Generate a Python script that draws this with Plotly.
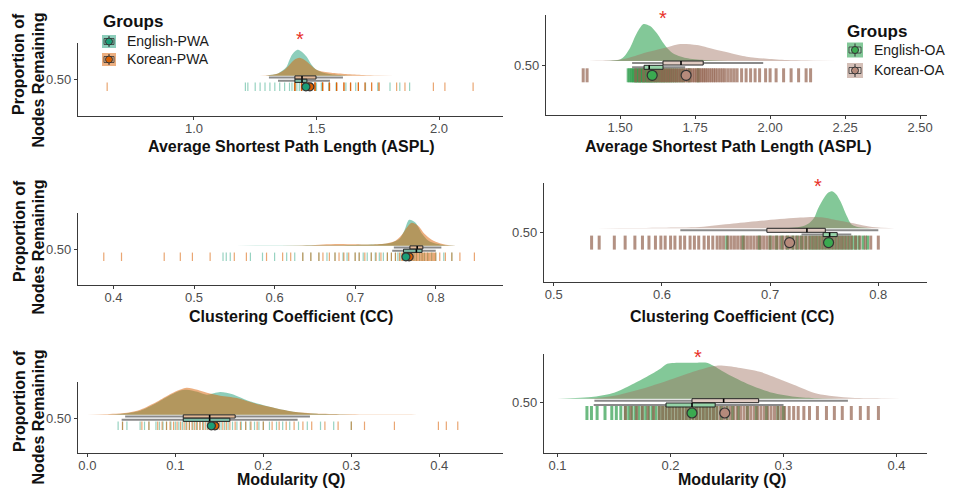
import plotly.graph_objects as go

W, H = 954, 498
OX, OY = 8, 8            # page body margin of the browser
FW, FH = W - 16, H - 16  # figure size that fits inside the window

# ====================== DATA ======================
# ---- Panel 1: ASPL, PWA groups ----
aspl_pwa_eng_dens_x = [1.25, 1.30, 1.34, 1.36, 1.378, 1.39, 1.40, 1.415, 1.425, 1.44, 1.46, 1.48, 1.50, 1.53, 1.56, 1.62, 1.70]
aspl_pwa_eng_dens = [0, 0.4, 2, 5, 9, 16, 21, 25, 26, 24, 19, 11, 6, 3, 1.5, 0.4, 0]
aspl_pwa_kor_dens_x = [1.25, 1.30, 1.34, 1.37, 1.39, 1.41, 1.43, 1.45, 1.475, 1.50, 1.53, 1.56, 1.62, 1.69, 1.75, 1.85]
aspl_pwa_kor_dens = [0, 0.5, 2, 6, 11, 16, 18, 16, 11, 6, 4, 3, 1.7, 0.7, 0.2, 0]
aspl_pwa_eng_box = [1.343, 1.412, 1.441, 1.461, 1.555]   # whisker lo, q1, median, q3, whisker hi
aspl_pwa_kor_box = [1.306, 1.412, 1.441, 1.498, 1.608]
aspl_pwa_eng_mean = 1.457
aspl_pwa_kor_mean = 1.473
aspl_pwa_eng_pts = [1.21, 1.22, 1.25, 1.27, 1.29, 1.31, 1.33, 1.35, 1.37, 1.39, 1.40, 1.41, 1.42, 1.43, 1.44,
                    1.45, 1.46, 1.47, 1.48, 1.50, 1.52, 1.55, 1.58, 1.62, 1.66, 1.70, 1.75, 1.80, 1.84, 1.88]
aspl_pwa_kor_vals = [0.646, 1.412, 1.439, 1.466, 1.494, 1.525, 1.553, 1.582, 1.612, 1.639, 1.671, 1.698, 1.725,
                     1.755, 1.827, 1.861, 1.977, 2.024, 2.139]
aspl_pwa_kor_counts = [1, 4, 5, 5, 5, 4, 4, 4, 3, 3, 3, 2, 2, 2, 1, 1, 1, 1, 1]
aspl_pwa_ticks = [1.0, 1.5, 2.0]
aspl_pwa_ticklabels = ["1.0", "1.5", "2.0"]

# ---- Panel 2: ASPL, OA groups ----
aspl_oa_eng_dens_x = [1.42, 1.47, 1.50, 1.515, 1.533, 1.556, 1.578, 1.60, 1.622, 1.644, 1.66, 1.68, 1.72, 1.78, 1.86]
aspl_oa_eng_dens = [0, 0.3, 1.5, 5, 13, 28, 37, 35, 28, 18, 12, 7, 3, 1, 0]
aspl_oa_kor_dens_x = [1.36, 1.42, 1.48, 1.52, 1.55, 1.58, 1.62, 1.66, 1.70, 1.756, 1.81, 1.867, 1.922, 1.99, 2.055, 2.12, 2.22]
aspl_oa_kor_dens = [0, 0.3, 0.8, 2.5, 5, 8, 11, 14, 17, 16, 12, 8, 4.3, 2.3, 1, 0.4, 0]
aspl_oa_eng_box = [1.54, 1.58, 1.597, 1.643, 1.717]
aspl_oa_kor_box = [1.54, 1.643, 1.703, 1.777, 1.977]
aspl_oa_eng_mean = 1.607
aspl_oa_kor_mean = 1.72
aspl_oa_eng_pts = [1.527, 1.532, 1.538, 1.542, 1.546, 1.55, 1.553, 1.556, 1.559, 1.562, 1.565, 1.568, 1.571, 1.574,
                   1.577, 1.58, 1.583, 1.586, 1.589, 1.592, 1.595, 1.598, 1.601, 1.604, 1.607, 1.61, 1.614, 1.618,
                   1.622, 1.626, 1.63, 1.635, 1.64, 1.645, 1.65, 1.656, 1.662, 1.668, 1.675, 1.682, 1.69, 1.70,
                   1.71, 1.73, 1.76]
aspl_oa_kor_pts = [1.377, 1.39, 1.552, 1.565, 1.578, 1.59, 1.60, 1.61, 1.618, 1.626, 1.634, 1.64, 1.646, 1.652,
                   1.658, 1.664, 1.67, 1.676, 1.682, 1.688, 1.694, 1.70, 1.706, 1.712, 1.718, 1.724, 1.73, 1.736,
                   1.742, 1.748, 1.754, 1.76, 1.766, 1.772, 1.778, 1.784, 1.79, 1.797, 1.804, 1.811, 1.818, 1.826,
                   1.834, 1.842, 1.85, 1.86, 1.87, 1.88, 1.89, 1.905, 1.92, 1.935, 1.95, 1.965, 1.985, 2.0, 2.02,
                   2.045, 2.07, 2.095, 2.12, 2.135]
aspl_oa_ticks = [1.5, 1.75, 2.0, 2.25, 2.5]
aspl_oa_ticklabels = ["1.50", "1.75", "2.00", "2.25", "2.50"]

# ---- Panel 3: CC, PWA groups ----
cc_pwa_eng_dens_x = [0.53, 0.58, 0.62, 0.66, 0.70, 0.73, 0.745, 0.755, 0.761, 0.767, 0.775, 0.783, 0.791, 0.801, 0.81, 0.825]
cc_pwa_eng_dens = [0, 0.3, 0.4, 0.6, 0.9, 1.5, 3, 7, 15, 26, 23, 12, 5, 2, 0.8, 0]
cc_pwa_kor_dens_x = [0.60, 0.64, 0.66, 0.68, 0.70, 0.72, 0.74, 0.75, 0.758, 0.764, 0.770, 0.778, 0.786, 0.795, 0.805, 0.815, 0.825]
cc_pwa_kor_dens = [0, 0.5, 1.3, 1.8, 1.5, 1.3, 2.5, 5, 11, 18, 23, 20, 12, 6, 2.5, 0.8, 0]
cc_pwa_eng_box = [0.746, 0.760, 0.776, 0.783, 0.800]
cc_pwa_kor_box = [0.748, 0.768, 0.777, 0.784, 0.807]
cc_pwa_eng_mean = 0.763
cc_pwa_kor_mean = 0.767
cc_pwa_eng_pts = [0.536, 0.54, 0.545, 0.57, 0.585, 0.60, 0.615, 0.625, 0.635, 0.645, 0.655, 0.665, 0.675, 0.685,
                  0.69, 0.70, 0.705, 0.71, 0.715, 0.72, 0.725, 0.73, 0.735, 0.74, 0.745, 0.75, 0.753, 0.756, 0.76,
                  0.763, 0.766, 0.77, 0.773, 0.776, 0.78, 0.783, 0.786, 0.79, 0.795, 0.80, 0.81, 0.82]
cc_pwa_kor_pts = [0.388, 0.41, 0.463, 0.483, 0.498, 0.52, 0.55, 0.565, 0.59, 0.61, 0.62, 0.635, 0.645, 0.655, 0.66,
                  0.668, 0.675, 0.68, 0.686, 0.692, 0.70, 0.705, 0.712, 0.72, 0.726, 0.732, 0.74, 0.745, 0.75,
                  0.755, 0.758, 0.761, 0.764, 0.767, 0.770, 0.773, 0.776, 0.779, 0.782, 0.785, 0.788, 0.791,
                  0.794, 0.797, 0.80, 0.805, 0.812, 0.82, 0.83, 0.848,
                  0.7585, 0.7625, 0.7655, 0.7685, 0.7715, 0.7745, 0.7775, 0.7805, 0.7835, 0.7865, 0.7895,
                  0.7925, 0.7955, 0.7985]
cc_pwa_ticks = [0.4, 0.5, 0.6, 0.7, 0.8]
cc_pwa_ticklabels = ["0.4", "0.5", "0.6", "0.7", "0.8"]

# ---- Panel 4: CC, OA groups ----
cc_oa_eng_dens_x = [0.70, 0.72, 0.73, 0.736, 0.741, 0.744, 0.749, 0.753, 0.757, 0.761, 0.765, 0.771, 0.775, 0.78, 0.79, 0.80]
cc_oa_eng_dens = [0, 0.5, 2, 5, 11, 19, 29, 35, 37, 34, 27, 12, 4, 1.5, 0.3, 0]
cc_oa_kor_dens_x = [0.52, 0.56, 0.60, 0.635, 0.666, 0.697, 0.728, 0.74, 0.749, 0.762, 0.777, 0.789, 0.80, 0.815]
cc_oa_kor_dens = [0, 0.3, 0.6, 1.3, 4.7, 8, 10.7, 11.3, 10.7, 8, 5, 2.3, 0.7, 0]
cc_oa_eng_box = [0.729, 0.749, 0.755, 0.762, 0.775]
cc_oa_kor_box = [0.617, 0.697, 0.734, 0.751, 0.800]
cc_oa_eng_mean = 0.754
cc_oa_kor_mean = 0.718
cc_oa_eng_pts = [0.66, 0.675, 0.69, 0.70, 0.706, 0.711, 0.716, 0.721, 0.725, 0.729, 0.733, 0.737, 0.740, 0.743,
                 0.746, 0.749, 0.752, 0.755, 0.758, 0.761, 0.764, 0.767, 0.770, 0.773, 0.776, 0.779, 0.782,
                 0.786, 0.79]
cc_oa_kor_pts = [0.535, 0.542, 0.556, 0.566, 0.575, 0.582, 0.588, 0.594, 0.599, 0.603, 0.608, 0.612, 0.617, 0.621,
                 0.626, 0.630, 0.634, 0.639, 0.643, 0.647, 0.651, 0.654, 0.657, 0.661, 0.664, 0.667, 0.670, 0.673,
                 0.676, 0.679, 0.682, 0.685, 0.688, 0.691, 0.694, 0.697, 0.700, 0.703, 0.706, 0.709, 0.712, 0.715,
                 0.718, 0.721, 0.724, 0.727, 0.730, 0.733, 0.736, 0.739, 0.742, 0.745, 0.748, 0.751, 0.754, 0.757,
                 0.760, 0.763, 0.766, 0.769, 0.772, 0.775, 0.779, 0.783, 0.788, 0.793, 0.80]
cc_oa_ticks = [0.5, 0.6, 0.7, 0.8]
cc_oa_ticklabels = ["0.5", "0.6", "0.7", "0.8"]

# ---- Panel 5: Modularity, PWA groups ----
q_pwa_eng_dens_x = [0.01, 0.03, 0.045, 0.06, 0.079, 0.095, 0.105, 0.113, 0.125, 0.136, 0.151, 0.165, 0.18, 0.189, 0.207, 0.234, 0.26, 0.29, 0.32]
q_pwa_eng_dens = [0, 0.3, 1.5, 4, 12, 20, 24, 25, 23, 20, 22.7, 20.5, 15, 12.3, 8, 3, 1, 0.3, 0]
q_pwa_kor_dens_x = [0.0, 0.02, 0.045, 0.06, 0.079, 0.095, 0.105, 0.113, 0.125, 0.136, 0.151, 0.17, 0.189, 0.207, 0.234, 0.26, 0.29, 0.33, 0.38, 0.44]
q_pwa_kor_dens = [0, 0.5, 2, 5, 13, 21, 25, 27, 25, 22, 19, 16.7, 11.7, 8, 3, 1.2, 0.5, 0.3, 0.15, 0]
q_pwa_eng_box = [0.039, 0.109, 0.139, 0.162, 0.239]
q_pwa_kor_box = [0.043, 0.109, 0.139, 0.168, 0.253]
q_pwa_eng_mean = 0.141
q_pwa_kor_mean = 0.145
q_pwa_eng_pts = [0.035, 0.04, 0.045, 0.06, 0.065, 0.07, 0.078, 0.082, 0.086, 0.09, 0.095, 0.10, 0.104, 0.108, 0.112,
                 0.116, 0.12, 0.124, 0.128, 0.132, 0.136, 0.14, 0.144, 0.148, 0.152, 0.156, 0.16, 0.165, 0.17,
                 0.175, 0.18, 0.185, 0.19, 0.195, 0.20, 0.207, 0.215, 0.222, 0.23, 0.24, 0.25, 0.265, 0.28, 0.30]
q_pwa_kor_pts = [0.04, 0.062, 0.07, 0.08, 0.085, 0.09, 0.094, 0.098, 0.102, 0.106, 0.11, 0.113, 0.116, 0.119, 0.122,
                 0.125, 0.128, 0.131, 0.134, 0.137, 0.14, 0.143, 0.146, 0.15, 0.154, 0.158, 0.162, 0.168, 0.174,
                 0.18, 0.186, 0.193, 0.20, 0.21, 0.218, 0.226, 0.235, 0.245, 0.255, 0.27, 0.285, 0.30, 0.315,
                 0.349, 0.399, 0.408, 0.421]
q_pwa_ticks = [0.0, 0.1, 0.2, 0.3, 0.4]
q_pwa_ticklabels = ["0.0", "0.1", "0.2", "0.3", "0.4"]

# ---- Panel 6: Modularity, OA groups ----
q_oa_eng_dens_x = [0.10, 0.132, 0.15, 0.162, 0.179, 0.191, 0.197, 0.21, 0.222, 0.232, 0.238, 0.25, 0.27, 0.29, 0.31, 0.33, 0.36]
q_oa_eng_dens = [0, 2, 6, 12, 22, 30, 35, 36, 36, 36, 33, 25, 14, 6, 2, 0.5, 0]
q_oa_kor_dens_x = [0.10, 0.132, 0.15, 0.175, 0.197, 0.220, 0.241, 0.26, 0.279, 0.30, 0.309, 0.33, 0.36, 0.39, 0.43]
q_oa_kor_dens = [0, 0.5, 3, 10, 18, 27, 33, 31, 27, 18, 14, 5, 1, 0.3, 0]
q_oa_eng_box = [0.132, 0.196, 0.219, 0.2395, 0.300]
q_oa_kor_box = [0.1326, 0.219, 0.247, 0.278, 0.357]
q_oa_eng_mean = 0.219
q_oa_kor_mean = 0.248
q_oa_eng_pts = [0.126, 0.13, 0.135, 0.142, 0.148, 0.152, 0.156, 0.16, 0.163, 0.166, 0.169, 0.172, 0.175, 0.178,
                0.181, 0.184, 0.187, 0.19, 0.193, 0.196, 0.199, 0.202, 0.205, 0.208, 0.211, 0.214, 0.217, 0.22,
                0.223, 0.226, 0.229, 0.232, 0.235, 0.238, 0.241, 0.245, 0.25, 0.255, 0.26, 0.268, 0.276, 0.285,
                0.295, 0.30]
q_oa_kor_pts = [0.16, 0.165, 0.17, 0.175, 0.18, 0.185, 0.19, 0.193, 0.196, 0.199, 0.202, 0.205, 0.208, 0.211, 0.214,
                0.217, 0.22, 0.223, 0.226, 0.229, 0.232, 0.235, 0.238, 0.241, 0.244, 0.247, 0.25, 0.253, 0.256,
                0.259, 0.262, 0.265, 0.268, 0.271, 0.274, 0.277, 0.28, 0.283, 0.286, 0.289, 0.292, 0.295, 0.298,
                0.301, 0.305, 0.309, 0.313, 0.318, 0.323, 0.33, 0.338, 0.345, 0.352, 0.36, 0.368, 0.375, 0.384]
q_oa_ticks = [0.1, 0.2, 0.3, 0.4]
q_oa_ticklabels = ["0.1", "0.2", "0.3", "0.4"]

y_tick = [0.5]
y_ticklabel = ["0.50"]
pwa_groups = ["English-PWA", "Korean-PWA"]
oa_groups = ["English-OA", "Korean-OA"]

# ====================== STYLE ======================
FONT = "Arial, Liberation Sans, sans-serif"
STY = {
    "pwa": dict(
        eng=dict(dens="rgba(27,158,119,0.5)", pt="#1b9e77", box="rgba(120,195,170,0.85)", mean="#1b9e77", po=0.45),
        kor=dict(dens="rgba(217,95,2,0.5)", pt="#d95f02", box="rgba(240,190,150,0.85)", mean="#d95f02", po=0.55),
        off=dict(base=3.5, kbox=1.8, ebox=-1.5, pts=-7.5, hh=1.6, ms=6, mean=8, pw=1.2),
    ),
    "oa": dict(
        eng=dict(dens="rgba(49,163,84,0.6)", pt="#2e9e4c", box="rgba(150,215,170,0.95)", mean="#3aaa50", po=0.7),
        kor=dict(dens="rgba(160,112,95,0.45)", pt="#93634f", box="rgba(228,205,196,0.95)", mean="#b58a7b", po=0.7),
        off=dict(base=4.0, kbox=2.0, ebox=-2.3, pts=-10.3, hh=2.0, ms=10, mean=10, pw=3.0),
    ),
}

S = 1000.0  # px per y-unit


def expand(vals, counts):
    out = []
    for v, c in zip(vals, counts):
        out += [v] * c
    return out


panels = [
    dict(dom=(78, 503, 43, 116), tick=79.3, xr=[0.527, 2.261], tv=aspl_pwa_ticks, tt=aspl_pwa_ticklabels,
         style="pwa", title="Average Shortest Path Length (ASPL)", title_xy=(291, 146), star=(300, 35),
         eng=dict(dx=aspl_pwa_eng_dens_x, d=aspl_pwa_eng_dens, box=aspl_pwa_eng_box, mean=aspl_pwa_eng_mean, pts=aspl_pwa_eng_pts),
         kor=dict(dx=aspl_pwa_kor_dens_x, d=aspl_pwa_kor_dens, box=aspl_pwa_kor_box, mean=aspl_pwa_kor_mean,
                  pts=expand(aspl_pwa_kor_vals, aspl_pwa_kor_counts))),
    dict(dom=(546, 927, 15, 115), tick=65, xr=[1.253, 2.523], tv=aspl_oa_ticks, tt=aspl_oa_ticklabels,
         style="oa", title="Average Shortest Path Length (ASPL)", title_xy=(728, 146), star=(663, 14),
         eng=dict(dx=aspl_oa_eng_dens_x, d=aspl_oa_eng_dens, box=aspl_oa_eng_box, mean=aspl_oa_eng_mean, pts=aspl_oa_eng_pts),
         kor=dict(dx=aspl_oa_kor_dens_x, d=aspl_oa_kor_dens, box=aspl_oa_kor_box, mean=aspl_oa_kor_mean, pts=aspl_oa_kor_pts)),
    dict(dom=(78, 503, 213, 285), tick=249.3, xr=[0.356, 0.8835], tv=cc_pwa_ticks, tt=cc_pwa_ticklabels,
         style="pwa", title="Clustering Coefficient (CC)", title_xy=(291, 316), star=None,
         eng=dict(dx=cc_pwa_eng_dens_x, d=cc_pwa_eng_dens, box=cc_pwa_eng_box, mean=cc_pwa_eng_mean, pts=cc_pwa_eng_pts),
         kor=dict(dx=cc_pwa_kor_dens_x, d=cc_pwa_kor_dens, box=cc_pwa_kor_box, mean=cc_pwa_kor_mean, pts=cc_pwa_kor_pts)),
    dict(dom=(544, 927, 183, 282), tick=232.3, xr=[0.491, 0.845], tv=cc_oa_ticks, tt=cc_oa_ticklabels,
         style="oa", title="Clustering Coefficient (CC)", title_xy=(732, 316), star=(818, 182),
         eng=dict(dx=cc_oa_eng_dens_x, d=cc_oa_eng_dens, box=cc_oa_eng_box, mean=cc_oa_eng_mean, pts=cc_oa_eng_pts),
         kor=dict(dx=cc_oa_kor_dens_x, d=cc_oa_kor_dens, box=cc_oa_kor_box, mean=cc_oa_kor_mean, pts=cc_oa_kor_pts)),
    dict(dom=(78, 503, 382, 453), tick=418.3, xr=[-0.0106, 0.4724], tv=q_pwa_ticks, tt=q_pwa_ticklabels,
         style="pwa", title="Modularity (Q)", title_xy=(291, 479), star=None,
         eng=dict(dx=q_pwa_eng_dens_x, d=q_pwa_eng_dens, box=q_pwa_eng_box, mean=q_pwa_eng_mean, pts=q_pwa_eng_pts),
         kor=dict(dx=q_pwa_kor_dens_x, d=q_pwa_kor_dens, box=q_pwa_kor_box, mean=q_pwa_kor_mean, pts=q_pwa_kor_pts)),
    dict(dom=(544, 927, 354, 453), tick=402.7, xr=[0.088, 0.427], tv=q_oa_ticks, tt=q_oa_ticklabels,
         style="oa", title="Modularity (Q)", title_xy=(732, 479), star=(698, 353),
         eng=dict(dx=q_oa_eng_dens_x, d=q_oa_eng_dens, box=q_oa_eng_box, mean=q_oa_eng_mean, pts=q_oa_eng_pts),
         kor=dict(dx=q_oa_kor_dens_x, d=q_oa_kor_dens, box=q_oa_kor_box, mean=q_oa_kor_mean, pts=q_oa_kor_pts)),
]


def fx(px):
    return (px - OX) / FW


def fy(py):
    return 1 - (py - OY) / FH


fig = go.Figure()
layout = dict(width=FW, height=FH, margin=dict(l=0, r=0, t=0, b=0), paper_bgcolor="white",
              plot_bgcolor="white", showlegend=False, font=dict(family=FONT))
annotations = []
shapes = []


def yv(off):
    return 0.5 + off / S


for k, P in enumerate(panels, start=1):
    xs = "" if k == 1 else str(k)
    xa, ya = "x" + xs, "y" + xs
    st = STY[P["style"]]
    off = st["off"]
    x0, x1, yt, yb = P["dom"]
    layout["xaxis" + xs] = dict(domain=[fx(x0), fx(x1)], range=P["xr"], anchor=ya, showline=True,
                                linecolor="#3a3a3a", linewidth=1.3, ticks="outside", ticklen=3,
                                tickcolor="#3a3a3a", tickvals=P["tv"], ticktext=P["tt"],
                                ticklabelstandoff=-3,
                                tickfont=dict(size=13, color="#4d4d4d", family=FONT),
                                showgrid=False, zeroline=False, automargin=False, fixedrange=True)
    layout["yaxis" + xs] = dict(domain=[fy(yb), fy(yt)],
                                range=[0.5 - (yb - P["tick"]) / S, 0.5 + (P["tick"] - yt) / S],
                                anchor=xa, showline=True, linecolor="#3a3a3a", linewidth=1.3,
                                ticks="outside", ticklen=3, tickcolor="#3a3a3a", tickvals=y_tick,
                                ticktext=y_ticklabel, tickfont=dict(size=13, color="#4d4d4d", family=FONT),
                                showgrid=False, zeroline=False, automargin=False, fixedrange=True)
    base = yv(off["base"])
    # densities (English first, Korean on top)
    for g in ("eng", "kor"):
        G = P[g]
        fig.add_trace(go.Scatter(x=G["dx"], y=[base + d / S for d in G["d"]], mode="lines", fill="toself",
                                 fillcolor=st[g]["dens"], line=dict(width=0, shape="spline", smoothing=0.8),
                                 xaxis=xa, yaxis=ya, hoverinfo="skip"))
    # points
    for g in ("eng", "kor"):
        G = P[g]
        fig.add_trace(go.Scatter(x=G["pts"], y=[yv(off["pts"])] * len(G["pts"]), mode="markers",
                                 marker=dict(symbol="line-ns", size=off["ms"], opacity=st[g]["po"],
                                             line=dict(width=off["pw"], color=st[g]["pt"])),
                                 xaxis=xa, yaxis=ya, hoverinfo="skip"))
    # boxplots
    for g, key in (("kor", "kbox"), ("eng", "ebox")):
        G = P[g]
        lo, q1, med, q3, hi = G["box"]
        yc = yv(off[key])
        hh = off["hh"] / S
        fig.add_trace(go.Scatter(x=[lo, hi], y=[yc, yc], mode="lines", line=dict(color="#8a8a8a", width=2),
                                 xaxis=xa, yaxis=ya, hoverinfo="skip"))
        fig.add_trace(go.Scatter(x=[q1, q3, q3, q1, q1], y=[yc - hh, yc - hh, yc + hh, yc + hh, yc - hh],
                                 mode="lines", fill="toself", fillcolor=st[g]["box"],
                                 line=dict(color="#222222", width=1), xaxis=xa, yaxis=ya, hoverinfo="skip"))
        fig.add_trace(go.Scatter(x=[med, med], y=[yc - hh, yc + hh], mode="lines",
                                 line=dict(color="#000000", width=1.6), xaxis=xa, yaxis=ya, hoverinfo="skip"))
    # means
    for g in ("kor", "eng") if P["style"] == "pwa" else ("eng", "kor"):
        G = P[g]
        fig.add_trace(go.Scatter(x=[G["mean"]], y=[yv(off["pts"])], mode="markers",
                                 marker=dict(symbol="circle", size=off["mean"], color=st[g]["mean"],
                                             line=dict(color="#333333", width=1.2)),
                                 xaxis=xa, yaxis=ya, hoverinfo="skip"))
    # x title
    tx, ty = P["title_xy"]
    annotations.append(dict(x=fx(tx), y=fy(ty), xref="paper", yref="paper", text="<b>%s</b>" % P["title"],
                            showarrow=False, xanchor="center", yanchor="middle",
                            font=dict(size=16, color="#111111", family=FONT)))
    if P["star"]:
        sx, sy = P["star"]
        annotations.append(dict(x=fx(sx), y=fy(sy + 4), xref="paper", yref="paper", text="*",
                                showarrow=False, xanchor="center", yanchor="middle",
                                font=dict(size=20, color="#e8312a", family=FONT)))

# y titles (left column only)
for top in (11, 178, 348):
    annotations.append(dict(x=fx(19), y=fy(top), xref="paper", yref="paper", text="<b>Proportion of</b>",
                            textangle=-90, showarrow=False, xanchor="center", yanchor="top",
                            font=dict(size=16, color="#111111", family=FONT)))
    annotations.append(dict(x=fx(38), y=fy(top), xref="paper", yref="paper", text="<b>Nodes Remaining</b>",
                            textangle=-90, showarrow=False, xanchor="center", yanchor="top",
                            font=dict(size=16, color="#111111", family=FONT)))


# legends
def legend(x_left, y_title, key_x, key_w, rows, names, sty):
    annotations.append(dict(x=fx(x_left), y=fy(y_title), xref="paper", yref="paper", text="<b>Groups</b>",
                            showarrow=False, xanchor="left", yanchor="middle",
                            font=dict(size=17, color="#111111", family=FONT)))
    for (yc, kh), name, g in zip(rows, names, ("eng", "kor")):
        kx0, kx1 = key_x, key_x + key_w
        ky0, ky1 = yc - kh / 2, yc + kh / 2
        cx = (kx0 + kx1) / 2
        shapes.append(dict(type="rect", xref="paper", yref="paper", x0=fx(kx0), x1=fx(kx1), y0=fy(ky1),
                           y1=fy(ky0), fillcolor=sty[g]["dens"], line=dict(width=0)))
        shapes.append(dict(type="rect", xref="paper", yref="paper", x0=fx(kx0 + 2), x1=fx(kx1 - 2),
                           y0=fy(yc + 3), y1=fy(yc - 3), fillcolor=sty[g]["box"],
                           line=dict(width=0.8, color="#333333")))
        shapes.append(dict(type="line", xref="paper", yref="paper", x0=fx(cx), x1=fx(cx), y0=fy(ky1 - 1),
                           y1=fy(ky0 + 1), line=dict(width=1, color="#333333")))
        shapes.append(dict(type="circle", xref="paper", yref="paper", x0=fx(cx - 3.5), x1=fx(cx + 3.5),
                           y0=fy(yc + 3.5), y1=fy(yc - 3.5), fillcolor=sty[g]["mean"],
                           line=dict(width=1, color="#333333")))
        annotations.append(dict(x=fx(kx1 + 9), y=fy(yc), xref="paper", yref="paper", text=name,
                                showarrow=False, xanchor="left", yanchor="middle",
                                font=dict(size=14, color="#1a1a1a", family=FONT)))


legend(101, 21, 102, 14, [(41.5, 13), (59.5, 13)], pwa_groups, STY["pwa"])
legend(845, 31, 847, 16, [(50, 15), (70.5, 15)], oa_groups, STY["oa"])

layout["annotations"] = annotations
layout["shapes"] = shapes
fig.update_layout(**layout)
fig.write_html("out.html")
